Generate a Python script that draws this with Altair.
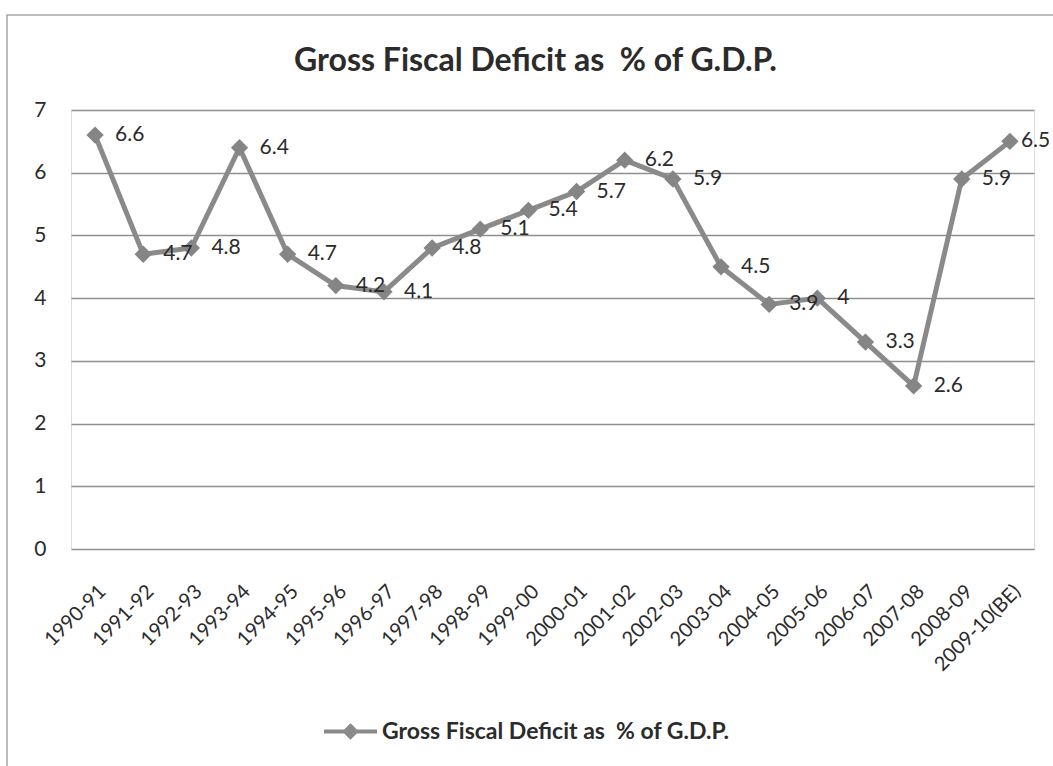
import altair as alt
import pandas as pd

years = ["1990-91", "1991-92", "1992-93", "1993-94", "1994-95", "1995-96",
         "1996-97", "1997-98", "1998-99", "1999-00", "2000-01", "2001-02",
         "2002-03", "2003-04", "2004-05", "2005-06", "2006-07", "2007-08",
         "2008-09", "2009-10(BE)"]
values = [6.6, 4.7, 4.8, 6.4, 4.7, 4.2, 4.1, 4.8, 5.1, 5.4, 5.7, 6.2,
          5.9, 4.5, 3.9, 4, 3.3, 2.6, 5.9, 6.5]
series_name = "Gross Fiscal Deficit as \u00a0% of G.D.P."
y_ticks = [0, 1, 2, 3, 4, 5, 6, 7]

df = pd.DataFrame({"year": years, "value": values, "series": series_name})

FONT = "Lato"
GREY = "#8a8a8a"
TEXT = "#2b2b2b"

x_enc = alt.X("year:N", sort=years, title=None,
              scale=alt.Scale(type="point", padding=0.5),
              axis=alt.Axis(labelAngle=-45, labelAlign="right", labelBaseline="top",
                            labelPadding=32, labelFontSize=20, labelFont=FONT,
                            labelColor=TEXT, ticks=False, domain=False, grid=False,
                            labelOverlap=False))
y_enc = alt.Y("value:Q", title=None,
              scale=alt.Scale(domain=[0, 7], nice=False),
              axis=alt.Axis(values=y_ticks, labelFontSize=21, labelFont=FONT,
                            labelColor=TEXT, labelPadding=25, ticks=False,
                            domain=False, grid=True, gridColor="#8f8f8f",
                            gridWidth=1.4))

base = alt.Chart(df)

line = base.mark_line(color=GREY, strokeWidth=5).encode(x=x_enc, y=y_enc)

points = base.mark_point(shape="diamond", filled=True, size=300, opacity=1).encode(
    x=x_enc, y=y_enc,
    color=alt.Color("series:N", scale=alt.Scale(range=["#858585"]),
                    legend=alt.Legend(title=None, orient="none",
                                      legendX=268, legendY=610,
                                      symbolType="M-5.3,0H5.3M0,-1.1L1.1,0L0,1.1L-1.1,0Z",
                                      symbolSize=100, symbolStrokeWidth=4,
                                      symbolStrokeColor=GREY, symbolFillColor=GREY,
                                      symbolOpacity=1,
                                      labelOffset=20, labelFontSize=23,
                                      labelFont=FONT, labelFontWeight="bold",
                                      labelColor=TEXT, labelLimit=700)))

labels = base.mark_text(align="left", baseline="middle", dx=20, fontSize=21,
                        font=FONT, color=TEXT).encode(
    x=x_enc, y=y_enc, text=alt.Text("value:Q")
).transform_filter(alt.datum.year != years[-1])

last_label = base.mark_text(align="left", baseline="middle", dx=11, fontSize=21,
                            font=FONT, color=TEXT).encode(
    x=x_enc, y=y_enc, text=alt.Text("value:Q")
).transform_filter(alt.datum.year == years[-1])

border = alt.Chart(pd.DataFrame({"b": [0]})).mark_rect(
    filled=False, stroke="#a8a8a8", strokeWidth=1.5).encode(
    x=alt.value(-64), x2=alt.value(1100), y=alt.value(-95), y2=alt.value(720))

chart = alt.layer(border, line, points, labels, last_label).properties(
    width=963, height=439,
    title=alt.TitleParams(series_name, fontSize=32, font=FONT, fontWeight="bold",
                          color=TEXT, anchor="middle", frame="group", dx=-17,
                          offset=-64),
    autosize=alt.AutoSizeParams(type="none"),
    padding={"left": 71, "top": 110, "right": 19, "bottom": 217},
).configure_view(stroke=None).configure(background="white")

chart.save("out.html", embed_options={"renderer": "svg", "actions": False})
